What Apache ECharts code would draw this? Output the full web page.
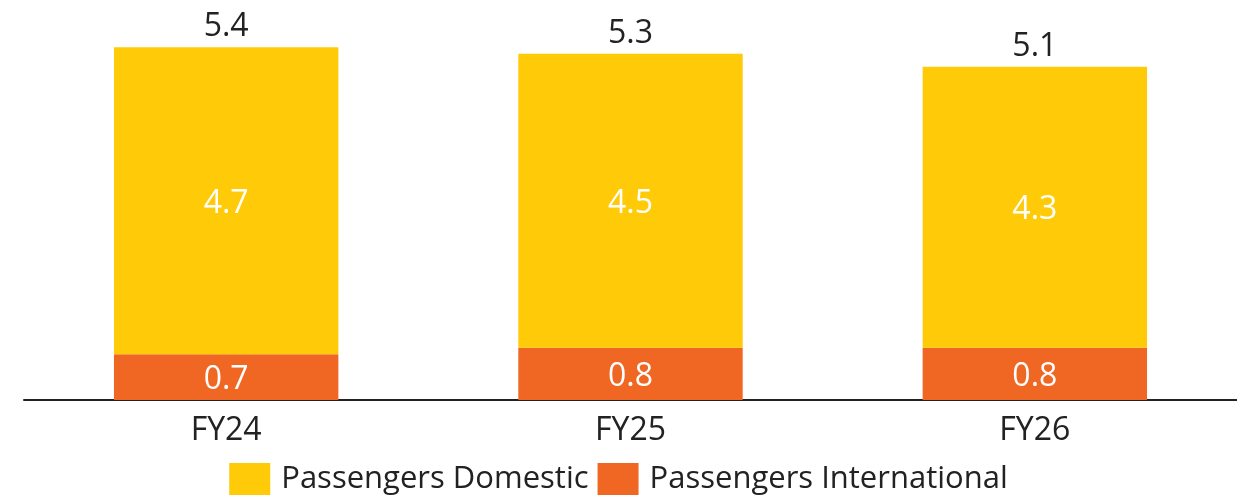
<!DOCTYPE html>
<html>
<head>
<meta charset="utf-8">
<script src="https://cdn.jsdelivr.net/npm/echarts@6/dist/echarts.min.js"></script>
<style>
  html, body { margin: 0; padding: 0; background: #fff; }
  #chart { width: 1237px; height: 498px; }
</style>
</head>
<body>
<div id="chart"></div>
<script>
// Passenger volumes by fiscal year (stacked)
const categories = ['FY24', 'FY25', 'FY26'];
const domestic = [4.7, 4.5, 4.3];
const international = [0.7, 0.8, 0.8];
const totals = [5.4, 5.3, 5.1];

const FONT = '"Open Sans", "Noto Sans", sans-serif';
const FS = 32;
const chart = echarts.init(document.getElementById('chart'));

chart.setOption({
  animation: false,
  textStyle: { fontFamily: FONT },
  grid: { left: 24, right: 0, top: 8, bottom: 98, containLabel: false },
  legend: {
    bottom: -2,
    left: 'center',
    icon: 'rect',
    itemWidth: 41,
    itemHeight: 32,
    itemGap: 9,
    textStyle: { fontSize: 31, color: '#222', fontFamily: FONT, padding: [0, 0, 0, 6] },
    data: ['Passengers Domestic', 'Passengers International']
  },
  xAxis: {
    type: 'category',
    data: categories,
    axisLine: { lineStyle: { color: '#222', width: 2 } },
    axisTick: { show: false },
    axisLabel: { fontSize: FS, color: '#222', margin: 15, fontFamily: FONT }
  },
  yAxis: {
    type: 'value',
    min: 0,
    max: 6,
    show: false,
    splitLine: { show: false }
  },
  series: [
    {
      name: 'Passengers International',
      type: 'bar',
      stack: 'pax',
      barWidth: '55.5%',
      data: international,
      itemStyle: { color: '#F06724' },
      label: { show: true, position: 'inside', offset: [0, 3], color: '#fff', fontSize: FS, fontFamily: FONT }
    },
    {
      name: 'Passengers Domestic',
      type: 'bar',
      stack: 'pax',
      barWidth: '55.5%',
      data: domestic,
      itemStyle: { color: '#FFCB08' },
      label: { show: true, position: 'inside', offset: [0, 3], color: '#fff', fontSize: FS, fontFamily: FONT }
    },
    {
      name: 'Total',
      type: 'bar',
      barWidth: '55.5%',
      barGap: '-100%',
      data: totals,
      itemStyle: { color: 'rgba(0,0,0,0)' },
      label: { show: true, position: 'top', distance: 4, color: '#222', fontSize: FS, fontFamily: FONT },
      silent: true,
      z: 0
    }
  ]
});
</script>
</body>
</html>
